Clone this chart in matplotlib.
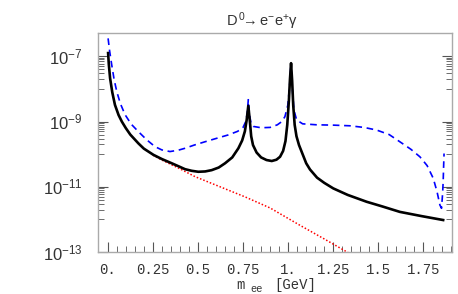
import numpy as np
import matplotlib
matplotlib.use("Agg")
import matplotlib.pyplot as plt
from matplotlib.ticker import FixedLocator, NullFormatter

plt.rcParams['mathtext.fontset'] = 'custom'
plt.rcParams['mathtext.rm'] = 'Liberation Sans'
plt.rcParams['mathtext.it'] = 'Liberation Sans:italic'

# black solid curve: m_ee [GeV], log10 of rate
black_m = [0.002, 0.006, 0.013, 0.025, 0.04, 0.06, 0.078, 0.10, 0.125, 0.15,
           0.17, 0.20, 0.253, 0.30, 0.355, 0.40, 0.428, 0.465, 0.502, 0.54,
           0.576, 0.615, 0.65, 0.69, 0.724, 0.745, 0.760, 0.770, 0.779, 0.787,
           0.795, 0.805, 0.825, 0.850, 0.880, 0.909, 0.935, 0.955, 0.972, 0.985,
           0.995, 1.004, 1.010, 1.016, 1.022, 1.028, 1.036, 1.046, 1.060, 1.08,
           1.10, 1.121, 1.16, 1.20, 1.25, 1.33, 1.435, 1.52, 1.619, 1.74, 1.859]
black_log = [-6.90, -7.25, -7.67, -8.10, -8.49, -8.80, -9.00, -9.20, -9.40, -9.55,
             -9.67, -9.83, -10.02, -10.15, -10.28, -10.39, -10.46, -10.51, -10.54, -10.53,
             -10.49, -10.41, -10.28, -10.10, -9.82, -9.58, -9.30, -8.95, -8.52, -8.95,
             -9.45, -9.72, -9.95, -10.10, -10.18, -10.21, -10.17, -10.08, -9.90, -9.60,
             -9.10, -8.35, -7.70, -7.21, -7.75, -8.50, -9.10, -9.45, -9.72, -10.00,
             -10.28, -10.47, -10.72, -10.88, -11.05, -11.25, -11.46, -11.60, -11.77, -11.90, -12.02]

# blue dashed curve
blue_m = [0.002, 0.010, 0.022, 0.035, 0.05, 0.07, 0.096, 0.13, 0.17, 0.216,
          0.262, 0.30, 0.345, 0.39, 0.428, 0.48, 0.539, 0.60, 0.668, 0.72,
          0.750, 0.765, 0.773, 0.779, 0.786, 0.795, 0.807, 0.85, 0.90, 0.94,
          0.965, 0.982, 0.998, 1.008, 1.015, 1.022, 1.032, 1.047, 1.08, 1.158,
          1.25, 1.342, 1.42, 1.49, 1.56, 1.619, 1.68, 1.73, 1.77, 1.804,
          1.825, 1.841, 1.850, 1.856, 1.859, 1.862, 1.864]
blue_log = [-6.45, -6.82, -7.26, -7.70, -8.08, -8.45, -8.79, -9.08, -9.31, -9.56,
            -9.77, -9.87, -9.92, -9.88, -9.82, -9.72, -9.62, -9.52, -9.41, -9.30,
            -9.18, -9.00, -8.75, -8.33, -8.80, -9.08, -9.15, -9.19, -9.18, -9.10,
            -9.00, -8.85, -8.50, -7.90, -7.26, -7.90, -8.65, -8.95, -9.07, -9.10,
            -9.11, -9.13, -9.18, -9.26, -9.40, -9.62, -9.85, -10.08, -10.35, -10.74,
            -11.15, -11.56, -11.66, -11.20, -10.85, -10.30, -9.98]

# red dotted curve
red_m = [0.25, 0.30, 0.40, 0.484, 0.60, 0.761, 0.90, 1.065, 1.20, 1.342]
red_log = [-10.03, -10.18, -10.45, -10.69, -10.95, -11.31, -11.65, -12.18, -12.60, -13.05]

xticks = [0, 0.25, 0.5, 0.75, 1.0, 1.25, 1.5, 1.75]
xtick_labels = ['0.', '0.25', '0.5', '0.75', '1.', '1.25', '1.5', '1.75']
yticks = [1e-13, 1e-11, 1e-9, 1e-7]
ytick_labels = ['$10^{-13}$', '$10^{-11}$', '$10^{-9}$', '$10^{-7}$']

fig = plt.figure(figsize=(4.58, 2.94), dpi=100)
ax = fig.add_axes([98/458, 1-252/294, 354/458, 219/294])

ax.plot(red_m, 10**np.array(red_log), color='#ff0000', lw=1.1, ls=(0, (1, 1.3)), zorder=2)
ax.plot(blue_m, 10**np.array(blue_log), color='#0000ff', lw=1.2, ls=(0, (4, 2.8)), zorder=3)
ax.plot(black_m, 10**np.array(black_log), color='black', lw=1.9, zorder=4)

ax.set_yscale('log')
ax.set_xlim(-0.054, 1.908)
ax.set_ylim(1e-13, 10**-6.285)

ax.set_xticks(xticks)
ax.set_xticklabels(xtick_labels, family='Liberation Mono', fontsize=10)
ax.xaxis.set_minor_locator(FixedLocator(np.arange(0, 1.901, 0.05)))
ax.set_yticks(yticks)
ax.set_yticklabels(ytick_labels, fontsize=12)
minors = []
for e in (-8, -10, -12):
    minors += [k * 10.0**e for k in range(1, 10)]
ax.yaxis.set_minor_locator(FixedLocator(minors))
ax.yaxis.set_minor_formatter(NullFormatter())

ax.tick_params(axis='x', which='both', direction='in', bottom=True, top=False,
               colors='#555555', labelcolor='#333333', pad=8)
ax.tick_params(axis='y', which='both', direction='in', left=True, right=True,
               colors='#555555', labelcolor='#333333', pad=11)
ax.tick_params(which='major', length=7, width=0.8)
ax.tick_params(which='minor', length=4, width=0.6)
for s in ax.spines.values():
    s.set_color('#aaaaaa')
    s.set_linewidth(1.0)

fig.text(262/458, 1-21/294, r'$\mathrm{D}^{\,0}\!\!\rightarrow \mathrm{e}^{-}\mathrm{e}^{+}\mathrm{γ}$',
         ha='center', va='center', fontsize=10.5, color='#333333')
fig.text(240/458, 1-285/294, 'm', family='Liberation Mono', fontsize=10,
         ha='center', va='center', color='#333333')
fig.text(257/458, 1-289/294, 'ee', family='Liberation Mono', fontsize=7.5,
         ha='center', va='center', color='#333333')
fig.text(295/458, 1-285/294, '[GeV]', family='Liberation Mono', fontsize=10,
         ha='center', va='center', color='#333333')

fig.savefig('out.png', dpi=100)
